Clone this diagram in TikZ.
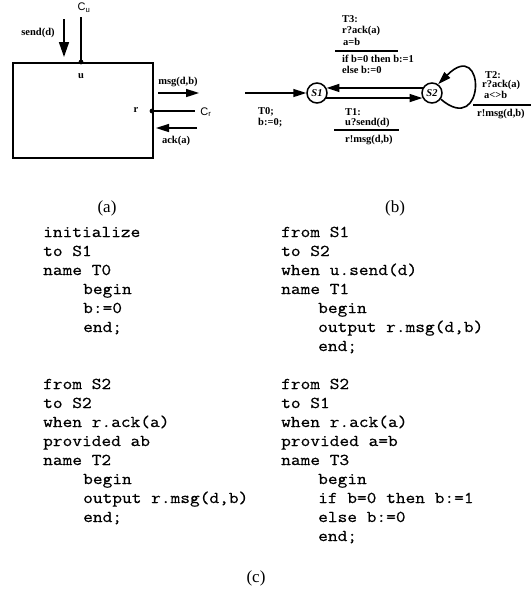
\documentclass[tikz,border=0pt]{standalone}
\usepackage{fontspec}
\setmainfont{Liberation Serif}
\setsansfont{Liberation Sans}
\setmonofont[FakeStretch=1.143,FakeBold=0.6]{Latin Modern Mono}
\usetikzlibrary{arrows.meta}
\begin{document}
\begin{tikzpicture}[x=1pt,y=-1pt,
  lbl/.style={font=\fontsize{10.5}{12}\selectfont\bfseries, inner sep=0},
  lblw/.style={lbl, anchor=west},
  sflbl/.style={font=\fontsize{11}{12}\selectfont\sffamily, inner sep=0},
  code/.style={font=\fontsize{16.5}{19}\selectfont\ttfamily, anchor=base west, inner sep=0},
  captxt/.style={font=\fontsize{17}{20}\selectfont, inner sep=0},
  heavy/.style={line width=1.6pt},
  tip/.style={-{Triangle[length=13pt,width=8pt]}},
  bigtip/.style={-{Triangle[length=15pt,width=10pt]}},
  state/.style={circle, draw, line width=1.5pt, minimum size=20pt, inner sep=0,
    font=\fontsize{10.5}{12}\selectfont\bfseries\itshape}]
\useasboundingbox (0,0) rectangle (531,590);

% ---------- (a) process with ports ----------
\node[draw, heavy, minimum width=140pt, minimum height=95pt, anchor=north west, inner sep=0] (proc) at (12,62) {};
\coordinate (u) at (81,62);
\coordinate (r) at (152,111);
\fill (u) circle (2.4pt);
\fill (r) circle (2.4pt);
\coordinate (cutop) at (81,17);
\draw[heavy] (cutop) -- (u);
\node[sflbl] (culbl) at (84,8) {C\textsubscript{u}};
\node[lbl] (ulbl) at (81,76) {u};
\coordinate (sd1) at (64,19);
\coordinate (sd2) at (64,57);
\draw[heavy,bigtip] (sd1) -- (sd2);
\node[lbl] (sendlbl) at (38,33) {send(d)};
\coordinate (crend) at (195,111);
\draw[heavy] (r) -- (crend);
\node[lbl] (rlbl) at (136,110) {r};
\node[sflbl] (crlbl) at (206,112) {C\textsubscript{r}};
\coordinate (m1) at (158,93);
\coordinate (m2) at (199,93);
\draw[heavy,tip] (m1) -- (m2);
\node[lbl] (msglbl) at (178,82) {msg(d,b)};
\coordinate (a1) at (197,128);
\coordinate (a2) at (156,128);
\draw[heavy,tip] (a1) -- (a2);
\node[lbl] (acklbl) at (176,141) {ack(a)};

% ---------- (b) state machine ----------
\node[state] (S1) at (317,93) {S1};
\node[state] (S2) at (432,93) {S2};
\coordinate (t0s) at (245,93);
\draw[heavy,tip] (t0s) -- (S1.west);
\draw[heavy,tip] (S2.152) -- (S1.28);
\draw[heavy,tip] (S1.-28) -- (S2.-152);
\draw[heavy,tip] (S2.-35) .. controls (486,138) and (486,36) .. (S2.55);

\node[lblw] (t0a) at (258,112) {T0;};
\node[lblw] (t0b) at (258,123) {b:=0;};

\node[lblw] (t3a) at (342,19) {T3:};
\node[lblw] (t3b) at (342,31) {r?ack(a)};
\node[lblw] (t3c) at (343,42) {a=b};
\draw[heavy] (335,51) -- (398,51);
\node[lblw] (t3d) at (342,59) {if b=0 then b:=1};
\node[lblw] (t3e) at (342,70) {else b:=0};

\node[lblw] (t1a) at (345,112) {T1:};
\node[lblw] (t1b) at (345,123) {u?send(d)};
\draw[heavy] (334,130) -- (399,130);
\node[lblw] (t1c) at (345,140) {r!msg(d,b)};

\node[lblw] (t2a) at (485,75) {T2:};
\node[lblw] (t2b) at (482,85) {r?ack(a)};
\node[lblw] (t2c) at (484,95) {a<>b};
\draw[heavy] (473,105) -- (531,105);
\node[lblw] (t2d) at (477,114) {r!msg(d,b)};

% ---------- captions ----------
\node[captxt] (capa) at (107,208) {(a)};
\node[captxt] (capb) at (395,208) {(b)};
\node[captxt] (capc) at (256,578) {(c)};

% ---------- (c) code ----------
\foreach \r/\dx/\t in {0/0/{initialize},1/0/{to S1},2/0/{name T0},3/40/{begin},4/40/{b:=0},5/40/{end;},
  8/0/{from S2},9/0/{to S2},10/0/{when r.ack(a)},11/0/{provided ab},12/0/{name T2},13/40/{begin},14/40/{output r.msg(d,b)},15/40/{end;}}
  \node[code] (cl\r) at (43+\dx,237+19*\r) {\t};
\foreach \r/\dx/\t in {0/0/{from S1},1/0/{to S2},2/0/{when u.send(d)},3/0/{name T1},4/37/{begin},5/37/{output r.msg(d,b)},6/37/{end;},
  8/0/{from S2},9/0/{to S1},10/0/{when r.ack(a)},11/0/{provided a=b},12/0/{name T3},13/37/{begin},14/37/{if b=0 then b:=1},15/37/{else b:=0},16/37/{end;}}
  \node[code] (cr\r) at (281+\dx,237+19*\r) {\t};
\end{tikzpicture}
\end{document}
